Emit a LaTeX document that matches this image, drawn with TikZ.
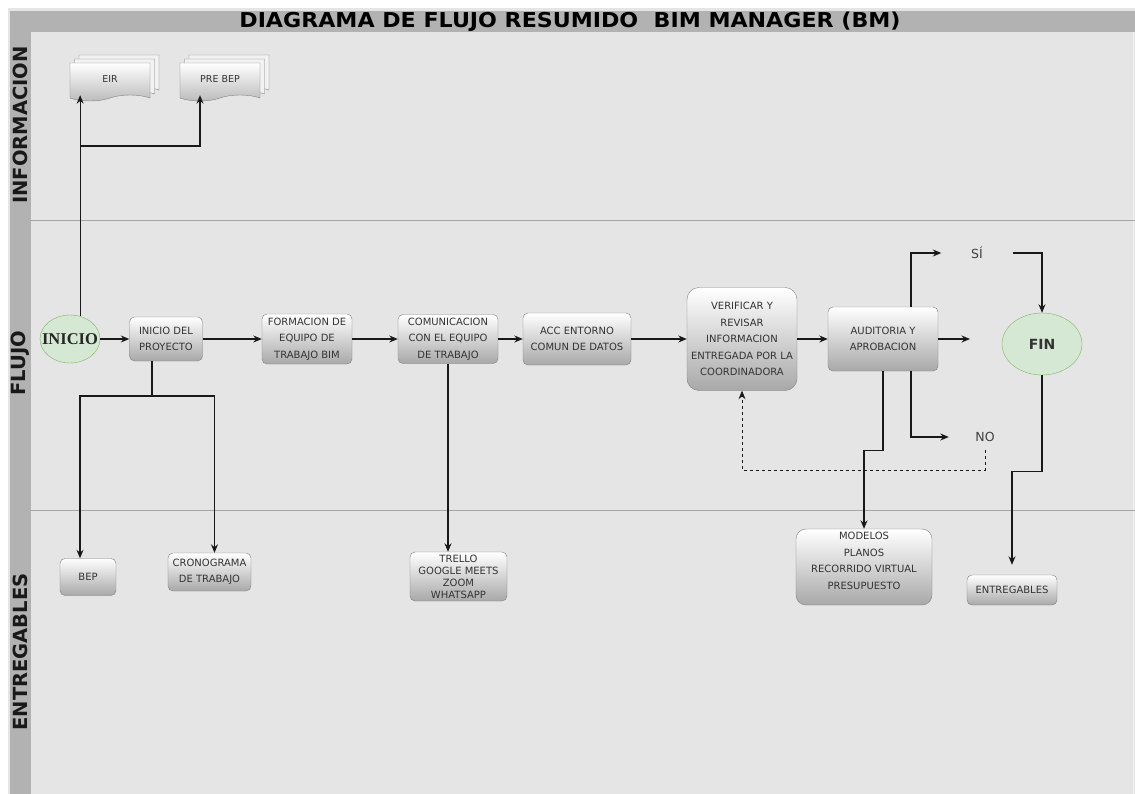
\documentclass[tikz,border=0pt]{standalone}
\usepackage{fontspec}
\usepackage{graphicx}
\setmainfont{DejaVu Sans}
\newfontfamily\inicfont{Liberation Serif}
\usetikzlibrary{shapes.geometric, shapes.symbols, shadows, arrows.meta, calc}

\definecolor{lanegray}{RGB}{229,229,229}
\definecolor{bargray}{RGB}{178,178,178}
\definecolor{linegray}{RGB}{165,165,165}
\definecolor{green1}{RGB}{213,232,212}
\definecolor{green2}{RGB}{130,179,102}
\definecolor{boxtext}{RGB}{51,51,51}

\tikzset{
  box/.style={draw=black!50, rounded corners=5pt, top color=white, bottom color=black!34,
    text=boxtext, align=center, font=\fontsize{10}{16.5}\selectfont, inner sep=2pt},
  docbox/.style={tape, tape bend top=none, tape bend bottom=in and out, tape bend height=6pt,
    draw=black!50, top color=white, bottom color=black!27, text=boxtext,
    double copy shadow={shadow xshift=4.5pt, shadow yshift=4pt, draw=black!50, fill=white!95!black},
    font=\fontsize{9.5}{11}\selectfont},
  terminal/.style={ellipse, draw=green2, fill=green1, inner sep=0pt},
  arr/.style={-{Stealth[length=8.5pt,width=7pt]}, line width=1.1pt, black!90},
  lane/.style={rotate=90, font=\fontsize{19.5}{20}\selectfont\bfseries, text=black!90},
  choice/.style={font=\fontsize{12.5}{14}\selectfont, text=black!75, inner sep=0pt}
}

\begin{document}
\begin{tikzpicture}[x=1pt, y=-1pt]
  % swimlane frame
  \useasboundingbox (0,0) rectangle (1135,794);
  \fill[white] (0,0) rectangle (1135,794);
  \fill[lanegray] (8,8) rectangle (1135,794);
  \fill[bargray] (10,11) rectangle (1135,32);
  \fill[bargray] (10,11) rectangle (31,794);
  \draw[black!5, line width=1pt] (1133,32) -- (1133,794);
  \draw[linegray] (31,220) -- (1135,220);
  \draw[linegray] (31,510) -- (1135,510);

  \node (title) at (570,22) {\scalebox{1.08}[1]{\fontsize{20.5}{22}\selectfont\bfseries DIAGRAMA DE FLUJO RESUMIDO\ \ BIM MANAGER (BM)}};
  \node[lane] (laneinfo) at (20,125) {INFORMACION};
  \node[lane] (laneflujo) at (20,363) {FLUJO};
  \node[lane] (laneentreg) at (20,652) {ENTREGABLES};

  % informacion
  \node[docbox, minimum width=80, minimum height=38] (eir) at (110,79) {EIR};
  \node[docbox, minimum width=80, minimum height=38] (prebep) at (220,79) {PRE BEP};

  % flujo
  \node[terminal, minimum width=60, minimum height=48, text=black!85,
    font=\inicfont\bfseries\fontsize{16.5}{18}\selectfont] (inicio) at (70,339) {\makebox[30pt]{INICIO}};
  \node[box, minimum width=73, minimum height=44] (ini) at (166,339) {INICIO DEL\\PROYECTO};
  \node[box, minimum width=90, minimum height=50] (form) at (307,339) {FORMACION DE\\EQUIPO DE\\TRABAJO BIM};
  \node[box, minimum width=100, minimum height=49] (comu) at (448,339) {COMUNICACION\\CON EL EQUIPO\\DE TRABAJO};
  \node[box, minimum width=108, minimum height=52] (acc) at (577,339) {ACC ENTORNO\\COMUN DE DATOS};
  \node[box, rounded corners=12pt, minimum width=110, minimum height=103] (verif) at (742,339)
    {VERIFICAR Y\\REVISAR\\INFORMACION\\ENTREGADA POR LA\\COORDINADORA};
  \node[box, minimum width=110, minimum height=64] (audit) at (883,339) {AUDITORIA Y\\APROBACION};
  \node[terminal, minimum width=80, minimum height=62, text=black!80,
    font=\fontsize{14}{15}\selectfont\bfseries] (fin) at (1042,344) {FIN};
  \node[choice, minimum width=71, minimum height=20] (silabel) at (977,253) {SÍ};
  \node[choice, minimum width=72, minimum height=26] (nolabel) at (985,437) {NO};
  \coordinate (auditout) at (970,339);

  % entregables
  \node[box, minimum width=56, minimum height=37] (bep) at (88,577) {BEP};
  \node[box, minimum width=83, minimum height=38] (cron) at (209.5,572) {CRONOGRAMA\\DE TRABAJO};
  \node[box, minimum width=97, minimum height=49, font=\fontsize{10}{12}\selectfont] (trello) at (458.5,576.5)
    {TRELLO\\GOOGLE MEETS\\ZOOM\\WHATSAPP};
  \node[box, rounded corners=10pt, minimum width=136, minimum height=76] (modelos) at (864,567)
    {MODELOS\\PLANOS\\RECORRIDO VIRTUAL\\PRESUPUESTO\\[-4pt]\mbox{}};
  \node[box, minimum width=90, minimum height=30] (entreg) at (1012,590) {ENTREGABLES};

  % connectors
  \coordinate (infobr) at (80,146);
  \draw[arr] (inicio.66) -- (inicio.66 |- eir.south);
  \draw[arr] (infobr) -| ($(prebep.south)+(-20,0)$);

  \draw[arr] (inicio) -- (ini);
  \draw[arr] (ini) -- (form);
  \draw[arr] (form) -- (comu);
  \draw[arr] (comu) -- (acc);
  \draw[arr] (acc) -- (verif);
  \draw[arr] (verif) -- (audit);
  \draw[arr] (audit) -- (auditout);

  \draw[arr] ($(audit.north)+(28,0)$) |- (silabel.west);
  \draw[arr] (silabel.east) -| (fin.north);
  \draw[arr] ($(audit.south)+(28,0)$) |- (nolabel.west);
  \draw[arr, line width=0.8pt, dash pattern=on 3pt off 3pt] (nolabel.south) -- ++(0,20) -| (verif.south);

  \coordinate (inijoin) at (152,396);
  \draw[line width=1.1pt, black!90] ($(ini.south)+(-14,0)$) -- (inijoin);
  \draw[arr] (inijoin) -| ($(bep.north)+(-8,0)$);
  \draw[arr] (inijoin) -| ($(cron.north)+(5,0)$);
  \draw[arr] (comu.south) -- (comu.south |- trello.north);
  \draw[arr] (audit.south) -- ++(0,79) -| (modelos.north);
  \draw[arr, shorten >=10pt] (fin.south) -- ++(0,96) -| (entreg.north);
\end{tikzpicture}
\end{document}
